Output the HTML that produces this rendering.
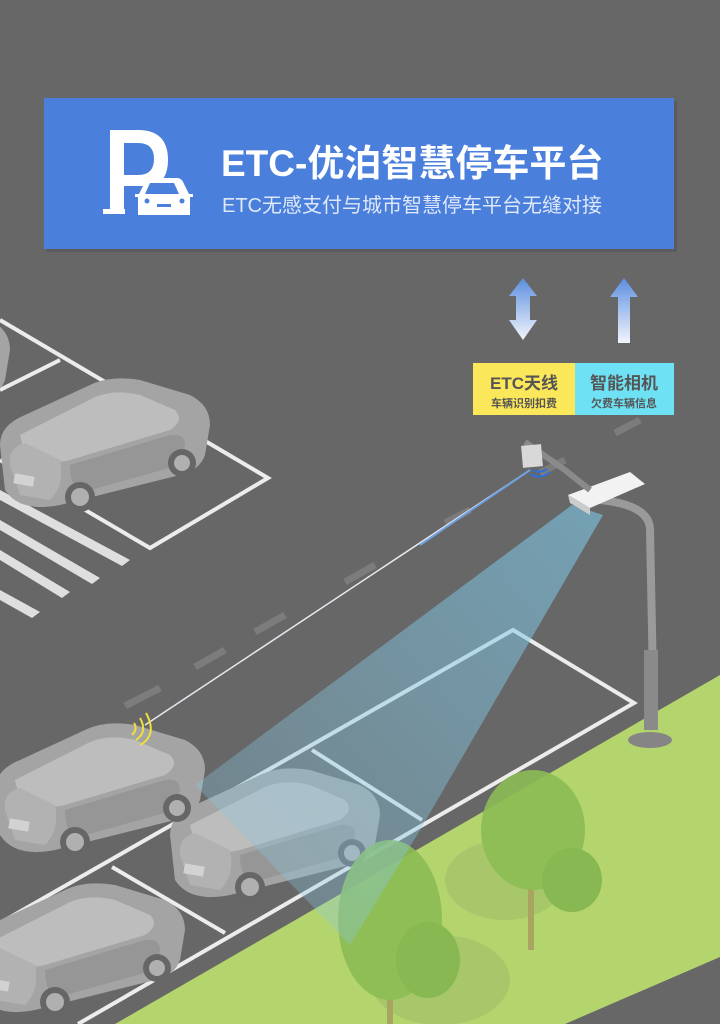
<!DOCTYPE html>
<html><head><meta charset="utf-8"><style>
html,body{margin:0;padding:0;width:720px;height:1024px;overflow:hidden;background:#676767}
svg{display:block}
</style></head><body>
<svg width="720" height="1024" viewBox="0 0 720 1024" xmlns="http://www.w3.org/2000/svg">
<defs>
<linearGradient id="ag" x1="0" y1="0" x2="0" y2="1"><stop offset="0" stop-color="#5b8ee0"/><stop offset="1" stop-color="#f2f5fb"/></linearGradient>
<linearGradient id="beam" x1="1" y1="0" x2="0" y2="1"><stop offset="0" stop-color="#7cc6e6" stop-opacity="0.85"/><stop offset="1" stop-color="#8cc8e0" stop-opacity="0.35"/></linearGradient>
<g id="car">
<path d="M0 70 Q0 50 25 40 L90 10 Q110 0 140 5 L190 20 Q210 30 210 50 L205 80 Q200 95 180 100 L60 130 Q20 138 5 115 Z" fill="#a4a4a4"/>
<path d="M20 60 L95 22 Q115 14 140 20 L175 35 Q185 45 170 55 L70 85 Q40 92 25 80 Z" fill="#bdbdbd"/>
<path d="M10 90 Q8 72 25 68 L60 85 Q65 110 50 125 L20 120 Z" fill="#b2b2b2"/>
<path d="M70 90 L170 60 Q185 58 185 70 L180 90 L80 118 Q70 110 70 90Z" fill="#969696"/>
<rect x="14" y="100" width="20" height="10" fill="#d2d2d2" transform="rotate(10 24 105)"/>
<circle cx="80" cy="122" r="15" fill="#666"/><circle cx="80" cy="122" r="9" fill="#b0b0b0"/>
<circle cx="182" cy="88" r="14" fill="#666"/><circle cx="182" cy="88" r="8" fill="#b0b0b0"/>
</g>
</defs>
<rect width="720" height="1024" fill="#676767"/>
<g stroke="#ececec" stroke-width="4" fill="none">
<polyline points="0,320 268,478 150,548 0,460"/>
<line x1="0" y1="390" x2="60" y2="360"/>
</g>
<g fill="#ededed" opacity="0.9">
<polygon points="0,490 130,560 122,566 0,500"/>
<polygon points="0,520 100,578 92,584 0,530"/>
<polygon points="0,550 70,592 62,598 0,560"/>
<polygon points="0,590 40,612 32,618 0,600"/>
</g>
<use href="#car" transform="translate(0,375)"/>
<use href="#car" transform="translate(-200,300)"/>
<g stroke="#7c7c7c" stroke-width="7">
<line x1="640" y1="420" x2="615" y2="433"/><line x1="565" y1="460" x2="540" y2="473"/>
<line x1="470" y1="510" x2="445" y2="523"/><line x1="375" y1="565" x2="345" y2="582"/>
<line x1="285" y1="615" x2="255" y2="632"/><line x1="225" y1="650" x2="195" y2="667"/>
<line x1="160" y1="688" x2="125" y2="706"/>
</g>
<polygon points="720,675 720,957 565,1024 115,1024" fill="#b4d56d"/>
<g stroke="#ececec" stroke-width="4" fill="none">
<polyline points="0,923 513,630 634,703 78,1024"/>
<line x1="312" y1="750" x2="422" y2="820"/>
<line x1="112" y1="867" x2="225" y2="933"/>
</g>
<use href="#car" transform="translate(170,765)"/>
<use href="#car" transform="translate(-25,880)"/>
<use href="#car" transform="translate(-5,720)"/>
<g opacity="0.9">
<ellipse cx="440" cy="980" rx="70" ry="45" fill="#a6c66a"/>
<ellipse cx="505" cy="880" rx="60" ry="40" fill="#a6c66a"/>
<rect x="387" y="960" width="6" height="64" fill="#a8a060"/>
<ellipse cx="390" cy="920" rx="52" ry="80" fill="#8cbc55"/>
<ellipse cx="428" cy="960" rx="32" ry="38" fill="#84b54e"/>
<rect x="528" y="860" width="6" height="90" fill="#a8a060"/>
<ellipse cx="533" cy="830" rx="52" ry="60" fill="#8cbc55"/>
<ellipse cx="572" cy="880" rx="30" ry="32" fill="#84b54e"/>
</g>
<polygon points="572,505 603,515 420,830 350,945 195,785" fill="url(#beam)" opacity="0.72"/>
<line x1="530" y1="470" x2="145" y2="725" stroke="#e8e8f0" stroke-width="1.5"/>
<line x1="530" y1="470" x2="420" y2="545" stroke="#6fa0e0" stroke-width="2"/>
<path d="M132 735 q6 -6 2 -12 M136 740 q12 -8 4 -22 M140 745 q18 -10 6 -32" stroke="#f0de3a" stroke-width="2" fill="none"/>
<path d="M600 500 Q650 505 650 530 L654 730" stroke="#9a9a9a" stroke-width="8" fill="none"/>
<rect x="644" y="650" width="14" height="80" fill="#8a8a8a"/>
<ellipse cx="650" cy="740" rx="22" ry="8" fill="#858585"/>
<polygon points="568,495 630,472 645,484 590,508" fill="#f2f2f2"/>
<polygon points="568,495 590,508 590,515 570,503" fill="#ccc"/>
<path d="M525 442 L565 470 L590 490" stroke="#8a8a8a" stroke-width="6" fill="none"/>
<rect x="522" y="445" width="20" height="22" fill="#d8d8d8" transform="rotate(-5 532 456)"/>
<path d="M533 470 q6 4 14 -1 M530 474 q10 6 20 -2" stroke="#2f6fd8" stroke-width="2" fill="none"/>
<polygon points="523,278 537,296 530,296 530,320 537,320 523,340 509,320 516,320 516,296 509,296" fill="url(#ag)"/>
<polygon points="624,278 638,297 630,297 630,343 618,343 618,297 610,297" fill="url(#ag)"/>
<rect x="473" y="363" width="102" height="52" fill="#fbe75a"/>
<rect x="575" y="363" width="99" height="52" fill="#6ee2f4"/>
<g font-family="'Liberation Sans','Noto Sans CJK SC',sans-serif" fill="#555" text-anchor="middle" font-weight="bold">
<text x="524" y="389" font-size="17">ETC天线</text>
<text x="524" y="407" font-size="11">车辆识别扣费</text>
<text x="624" y="389" font-size="17">智能相机</text>
<text x="624" y="407" font-size="11">欠费车辆信息</text>
</g>
<rect x="47" y="101" width="630" height="151" fill="#4a4a4a" opacity="0.4"/>
<rect x="44" y="98" width="630" height="151" fill="#4a7fdc"/>
<g fill="#fff">
<path d="M110 130 h28 q30 0 30 30 q0 20 -14 26 h-30 v27 h-14 z M124 143 v32 h14 q16 0 16 -16 q0 -16 -16 -16 z"/>
<rect x="103" y="209" width="22" height="5"/>
<path d="M147 178 h30 q5 0 7 6 l5 10 h4 v3 h-3 v18 h-52 v-18 h-3 v-3 h4 l5 -10 q2 -6 7 -6z" />
<path d="M150 183 h24 l5 11 h-34z" fill="#4a7fdc"/>
<rect x="157" y="204" width="14" height="3" fill="#4a7fdc"/>
<circle cx="147" cy="201" r="2.5" fill="#4a7fdc"/><circle cx="182" cy="201" r="2.5" fill="#4a7fdc"/>
</g>
<g font-family="'Liberation Sans','Noto Sans CJK SC',sans-serif" fill="#fff">
<text x="221" y="176" font-size="37" font-weight="bold">ETC-优泊智慧停车平台</text>
<text x="222" y="212" font-size="20" fill="#dfe8f8">ETC无感支付与城市智慧停车平台无缝对接</text>
</g>
</svg>
</body></html>
